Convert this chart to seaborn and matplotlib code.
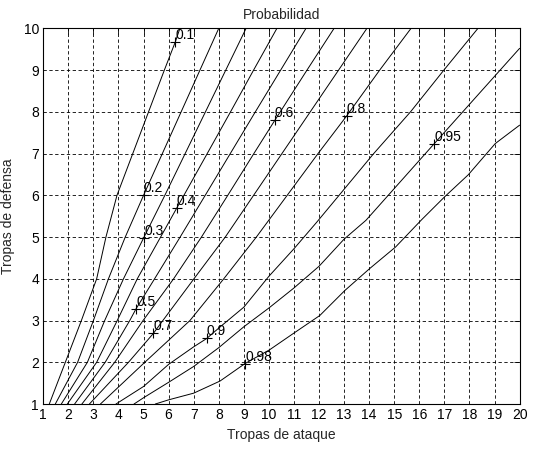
import pandas as pd
import seaborn as sns
import matplotlib.pyplot as plt

# niveles de probabilidad de las curvas
niveles = ["0.1", "0.2", "0.3", "0.4", "0.5", "0.6", "0.7", "0.8", "0.9", "0.95", "0.98"]

# puntos de cada curva (tropas de ataque, tropas de defensa)
x_01 = [1.24, 1.88, 2.52, 3.13, 3.5, 3.94, 4.57, 5.2, 5.83, 6.27, 6.45]
y_01 = [1, 2, 3, 4, 5, 6, 7, 8, 9, 9.68, 10]

x_02 = [1.48, 2.37, 3.0, 3.6, 4.27, 5.0, 5.75, 6.5, 7.25, 8.0]
y_02 = [1, 2, 3, 4, 5, 6, 7, 8, 9, 10]

x_03 = [1.72, 2.76, 3.45, 4.2, 5.02, 5.85, 6.66, 7.47, 8.28, 9.09]
y_03 = [1, 2, 3, 4, 5, 6, 7, 8, 9, 10]

x_04 = [1.96, 3.13, 3.95, 4.75, 5.68, 6.32, 6.61, 7.54, 8.47, 9.39, 10.32]
y_04 = [1, 2, 3, 4, 5, 5.69, 6, 7, 8, 9, 10]

x_05 = [2.25, 3.47, 4.45, 4.7, 5.44, 6.46, 7.46, 8.46, 9.46, 10.47, 11.48]
y_05 = [1, 2, 3, 3.28, 4, 5, 6, 7, 8, 9, 10]

x_06 = [2.54, 3.85, 4.98, 6.2, 7.31, 8.36, 9.4, 10.24, 11.52, 12.6]
y_06 = [1, 2, 3, 4, 5, 6, 7, 7.8, 9, 10]

x_07 = [2.84, 4.4, 5.39, 5.77, 7.01, 8.26, 9.39, 10.52, 11.65, 12.78, 13.91]
y_07 = [1, 2, 2.69, 3, 4, 5, 6, 7, 8, 9, 10]

x_08 = [3.28, 5.05, 6.85, 8.2, 9.5, 10.73, 11.96, 13.1, 14.42, 15.67]
y_08 = [1, 2, 3, 4, 5, 6, 7, 7.9, 9, 10]

x_09 = [3.9, 5.0, 6.0, 7.0, 7.52, 8.06, 9.0, 10.0, 11.0, 11.9, 12.8, 14.18, 15.65, 16.98, 18.34]
y_09 = [1, 1.42, 1.95, 2.37, 2.57, 2.85, 3.32, 4.06, 4.72, 5.35, 6, 7, 8, 9, 10]

x_095 = [4.62, 5.0, 6.0, 7.0, 8.0, 9.0, 10.0, 11.0, 12.0, 13.0, 13.87, 16.6, 20.0]
y_095 = [1, 1.15, 1.52, 1.9, 2.35, 2.85, 3.3, 3.78, 4.3, 4.95, 5.4, 7.24, 9.52]

x_098 = [5.47, 6.0, 7.0, 8.05, 9.05, 10.03, 11.0, 12.03, 13.03, 14.03, 15.05, 16.1, 17.02, 17.95, 19.03, 20.0]
y_098 = [1, 1.1, 1.26, 1.55, 1.97, 2.3, 2.7, 3.12, 3.72, 4.25, 4.76, 5.42, 5.97, 6.49, 7.24, 7.68]

# posiciones de las etiquetas (+)
etiq_x = [6.27, 5.0, 5.02, 6.32, 4.7, 10.24, 5.39, 13.1, 7.52, 16.6, 9.05]
etiq_y = [9.68, 6.0, 4.97, 5.69, 3.28, 7.8, 2.69, 7.9, 2.57, 7.24, 1.97]

curvas = [(x_01, y_01), (x_02, y_02), (x_03, y_03), (x_04, y_04), (x_05, y_05),
          (x_06, y_06), (x_07, y_07), (x_08, y_08), (x_09, y_09),
          (x_095, y_095), (x_098, y_098)]

frames = []
for nivel, (xs, ys) in zip(niveles, curvas):
    frames.append(pd.DataFrame({"ataque": xs, "defensa": ys, "nivel": nivel}))
df = pd.concat(frames, ignore_index=True)

sns.set_style("white")
plt.rcParams["font.family"] = ["Liberation Sans", "DejaVu Sans"]
plt.rcParams["font.size"] = 10

fig = plt.figure(figsize=(5.52, 4.49), dpi=100)
ax = fig.add_axes([0.0784, 0.1002, 0.8629, 0.8367])

sns.lineplot(data=df, x="ataque", y="defensa", units="nivel", estimator=None,
             sort=False, color="black", linewidth=0.7, ax=ax)
sns.scatterplot(x=etiq_x, y=etiq_y, marker="+", color="black", s=45,
                linewidth=0.8, ax=ax, zorder=3)
for xt, yt, nivel in zip(etiq_x, etiq_y, niveles):
    ax.text(xt, yt, nivel, ha="left", va="bottom", fontsize=10, color="black")

ax.set_xlim(1, 20)
ax.set_ylim(1, 10)
ax.set_xticks(range(1, 21))
ax.set_yticks(range(1, 11))
ax.grid(True, color="black", linestyle=(0, (4, 3)), linewidth=0.6)
ax.tick_params(direction="in", length=4, width=0.6, top=True, right=True,
               labelsize=10, colors="black", pad=3)
for sp in ax.spines.values():
    sp.set_color("black")
    sp.set_linewidth(0.8)

ax.set_title("Probabilidad", fontsize=10, pad=7)
ax.set_xlabel("Tropas de ataque", fontsize=10, labelpad=4)
ax.set_ylabel("Tropas de defensa", fontsize=10, labelpad=6)

fig.savefig("out.png", dpi=100)
